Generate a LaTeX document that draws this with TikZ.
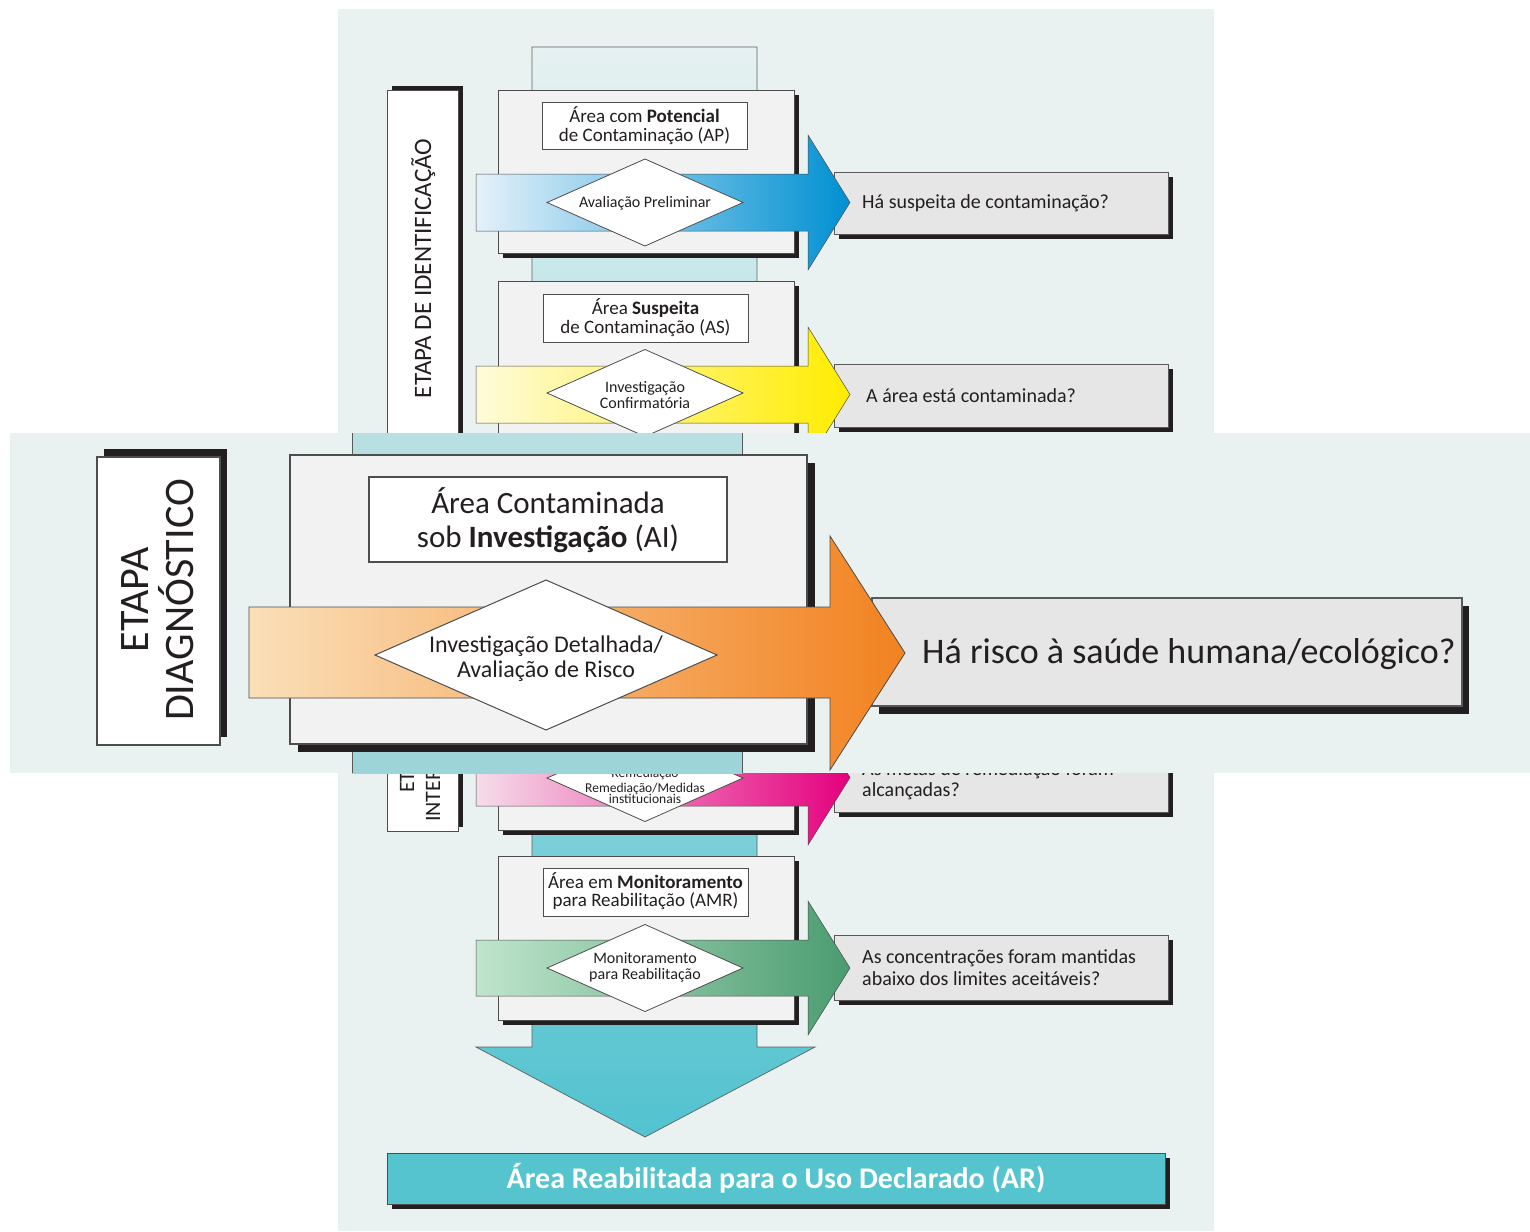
\documentclass[tikz,border=0pt]{standalone}
\usepackage{fontspec}
\setmainfont{Carlito}
\usetikzlibrary{shadows}
\definecolor{bgc}{HTML}{E9F2F1}
\definecolor{shc}{HTML}{231F20}
\definecolor{boxc}{HTML}{F2F2F2}
\definecolor{qc}{HTML}{E6E6E6}
\definecolor{edgec}{HTML}{4D4D4D}
\definecolor{tubeT}{HTML}{E6F1F1}
\definecolor{tubeB}{HTML}{52C3CF}
\definecolor{blueL}{HTML}{E4F1FA}
\definecolor{blueR}{HTML}{0090D2}
\definecolor{yelL}{HTML}{FFFBDA}
\definecolor{yelR}{HTML}{FFEC00}
\definecolor{pinkL}{HTML}{F5DCE9}
\definecolor{pinkR}{HTML}{E5007E}
\definecolor{grnL}{HTML}{BFE5CC}
\definecolor{grnR}{HTML}{4B9C70}
\definecolor{orL}{HTML}{FADFB8}
\definecolor{orR}{HTML}{F28220}
\definecolor{arc}{HTML}{56C4CF}
\definecolor{txc}{HTML}{231F20}
\definecolor{ovtT}{HTML}{B8E0E2}
\definecolor{ovtB}{HTML}{9CD4D9}
\newcommand\fsz[1]{\fontsize{#1}{#1}\selectfont}
\tikzset{
  t/.style={inner sep=0pt, anchor=base, text=txc},
  tl/.style={inner sep=0pt, anchor=base west, text=txc},
  sbox/.style={fill=boxc, draw=edgec, line width=0.9pt,
    drop shadow={shadow xshift=4.5pt, shadow yshift=-4.5pt, opacity=1, fill=shc}},
  sboxbig/.style={fill=boxc, draw=edgec, line width=1.2pt,
    drop shadow={shadow xshift=7.5pt, shadow yshift=-8pt, opacity=1, fill=shc}},
  qbox/.style={fill=qc, draw=gray!70!black, line width=0.8pt,
    drop shadow={shadow xshift=4.5pt, shadow yshift=-5pt, opacity=1, fill=shc}},
  qboxbig/.style={fill=qc, draw=gray!70!black, line width=1.2pt,
    drop shadow={shadow xshift=7pt, shadow yshift=-8pt, opacity=1, fill=shc}},
  tbox/.style={fill=white, draw=edgec, line width=0.9pt},
  tboxbig/.style={fill=white, draw=edgec, line width=1.4pt},
  lbox/.style={fill=white, draw=edgec, line width=0.9pt,
    drop shadow={shadow xshift=5pt, shadow yshift=4pt, opacity=1, fill=shc}},
  lboxbig/.style={fill=white, draw=edgec, line width=1.3pt,
    drop shadow={shadow xshift=7pt, shadow yshift=8pt, opacity=1, fill=shc}},
  dia/.style={fill=white, draw=edgec, line width=0.8pt},
  arr/.style={draw=gray!60!black, line width=0.5pt},
  arbox/.style={fill=arc, draw=gray!60!black, line width=1pt,
    drop shadow={shadow xshift=5pt, shadow yshift=-5pt, opacity=1, fill=shc}},
}
\begin{document}
\begin{tikzpicture}[x=1pt,y=-1pt]
\useasboundingbox (0,0) rectangle (1530,1231);
\fill[white] (0,0) rectangle (1530,1231);
\fill[bgc] (338,9) rectangle (1214,1231);
% tube with down arrow
\shadedraw[top color=tubeT, bottom color=tubeB, draw=gray!75!black, line width=0.7pt]
  (532,47) -- (757,47) -- (757,1047) -- (815,1047) -- (645,1137) -- (476,1047) -- (532,1047) -- cycle;
% stage boxes
\draw[sbox] (498,90) rectangle (794,253);
\draw[sbox] (498,281) rectangle (794,445);
\draw[sbox] (498,667) rectangle (794,830);
\draw[sbox] (498,856) rectangle (794,1020);
% title boxes
\draw[tbox] (542,102) rectangle (747,149);
\node[t, font={\fsz{19}}] (ap1) at (644.5,122) {Área com \textbf{Potencial}};
\node[t, font={\fsz{19}}] (ap2) at (644.5,141) {de Contaminação (AP)};
\draw[tbox] (543,294) rectangle (748,342);
\node[t, font={\fsz{19}}] (as1) at (645.5,314) {Área \textbf{Suspeita}};
\node[t, font={\fsz{19}}] (as2) at (645.5,333) {de Contaminação (AS)};
\draw[tbox] (543,868) rectangle (748,916);
\node[t, font={\fsz{19}}] (amr1) at (645.5,888) {Área em \textbf{Monitoramento}};
\node[t, font={\fsz{19}}] (amr2) at (645.5,906) {para Reabilitação (AMR)};
% question boxes
\draw[qbox] (834,172) rectangle (1168,234);
\node[tl, font={\fsz{20}}] (q1) at (862,208) {Há suspeita de contaminação?};
\draw[qbox] (834,364) rectangle (1168,427);
\node[tl, font={\fsz{20}}] (q2) at (866,402) {A área está contaminada?};
\draw[qbox] (834,749) rectangle (1168,812);
\node[tl, font={\fsz{20}}] (q3a) at (862,775) {As metas de remediação foram};
\node[tl, font={\fsz{20}}] (q3b) at (862,796) {alcançadas?};
\draw[qbox] (834,935) rectangle (1168,1000);
\node[tl, font={\fsz{20}}] (q4a) at (862,963) {As concentrações foram mantidas};
\node[tl, font={\fsz{20}}] (q4b) at (862,985) {abaixo dos limites aceitáveis?};
% arrows
\shadedraw[arr, left color=blueL, middle color=blueR!72!blueL, right color=blueR]
  (476,174) -- (808,174) -- (808,135) -- (850,202.5) -- (808,270) -- (808,231) -- (476,231) -- cycle;
\shadedraw[arr, left color=yelL, middle color=yelR!65!yelL, right color=yelR]
  (476,366) -- (808,366) -- (808,327) -- (850,394.5) -- (808,462) -- (808,423) -- (476,423) -- cycle;
\shadedraw[arr, left color=pinkL, middle color=pinkR!60!pinkL, right color=pinkR]
  (476,749) -- (808,749) -- (808,710) -- (850,777.5) -- (808,845) -- (808,806) -- (476,806) -- cycle;
\shadedraw[arr, left color=grnL, middle color=grnR!60!grnL, right color=grnR]
  (476,940) -- (808,940) -- (808,901) -- (850,968) -- (808,1035) -- (808,996) -- (476,996) -- cycle;
% diamonds
\draw[dia] (547,202.5) -- (645,159) -- (743,202.5) -- (645,246) -- cycle;
\node[t, font={\fsz{16}}] (d1) at (645,207) {Avaliação Preliminar};
\draw[dia] (547,393) -- (645,349.5) -- (743,393) -- (645,436.5) -- cycle;
\node[t, font={\fsz{16}}] (d2a) at (645,392) {Investigação};
\node[t, font={\fsz{16}}] (d2b) at (645,408) {Confirmatória};
\draw[dia] (547,778) -- (645,734.5) -- (743,778) -- (645,821.5) -- cycle;
\node[t, font={\fsz{13.5}}] (d3a) at (645,777) {Remediação};
\node[t, font={\fsz{13.5}}] (d3b) at (645,792) {Remediação/Medidas};
\node[t, font={\fsz{13.5}}] (d3c) at (645,803.5) {institucionais};
\draw[dia] (547,968) -- (645,924.5) -- (743,968) -- (645,1011.5) -- cycle;
\node[t, font={\fsz{16}}] (d4a) at (645,963) {Monitoramento};
\node[t, font={\fsz{16}}] (d4b) at (645,979) {para Reabilitação};
% stage labels
\draw[lbox] (387,90) rectangle (458,600);
\node[t, rotate=90, font={\fsz{25}}] (lid) at (431,268.5) {ETAPA DE IDENTIFICAÇÃO};
\draw[lbox] (387,600) rectangle (458,831);
\node[tl, rotate=90, font={\fsz{22}}] (lin1) at (414,793) {ETAPA DE};
\node[tl, rotate=90, font={\fsz{22}}] (lin2) at (440,822) {INTERVENÇÃO};
% final box
\draw[arbox] (387,1153) rectangle (1165,1204);
\node[t, text=white, font={\fsz{30}\bfseries}] (ar) at (776,1188) {Área Reabilitada para o Uso Declarado (AR)};
% ===== enlarged overlay band =====
\fill[bgc] (10,433) rectangle (1530,773);
\shade[top color=ovtT, bottom color=ovtB] (352,433) rectangle (742,773);
\draw[gray!70!black, line width=0.8pt] (352,433) -- (352,773) (742,433) -- (742,773);
\draw[sboxbig] (290,455) rectangle (807,744);
\draw[tboxbig] (369,477) rectangle (727,562);
\node[t, font={\fsz{31}}] (ai1) at (548,513) {Área Contaminada};
\node[t, font={\fsz{31}}] (ai2) at (548,547) {sob \textbf{Investigação} (AI)};
\draw[qboxbig] (872,598) rectangle (1462,706);
\node[tl, font={\fsz{36}}] (qai) at (922,663) {Há risco à saúde humana/ecológico?};
\shadedraw[arr, line width=0.8pt, left color=orL, middle color=orR!55!orL, right color=orR]
  (249,607) -- (830,607) -- (830,536) -- (905,653) -- (830,770) -- (830,698) -- (249,698) -- cycle;
\draw[dia, line width=1pt] (375,655) -- (546,580) -- (717,655) -- (546,730) -- cycle;
\node[t, font={\fsz{24}}] (dai1) at (546,652) {Investigação Detalhada/};
\node[t, font={\fsz{24}}] (dai2) at (546,677) {Avaliação de Risco};
\draw[lboxbig] (97,457) rectangle (220,745);
\node[t, rotate=90, font={\fsz{42}}] (ld1) at (148,600) {ETAPA};
\node[t, rotate=90, font={\fsz{42}}] (ld2) at (193,600) {DIAGNÓSTICO};
\end{tikzpicture}
\end{document}
